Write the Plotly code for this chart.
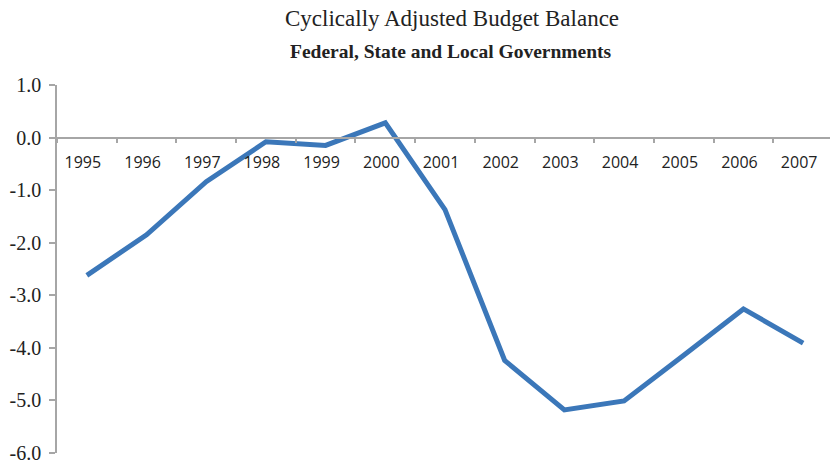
import plotly.graph_objects as go

# Cyclically adjusted budget balance, percent
years = ["1995", "1996", "1997", "1998", "1999", "2000", "2001",
         "2002", "2003", "2004", "2005", "2006", "2007"]
balance = [-2.62, -1.85, -0.84, -0.08, -0.15, 0.28, -1.37,
           -4.24, -5.18, -5.01, -4.14, -3.26, -3.91]

y_ticks = [1, 0, -1, -2, -3, -4, -5, -6]
y_tick_text = ["1.0", "0.0", "-1.0", "-2.0", "-3.0", "-4.0", "-5.0", "-6.0"]

title_text = "Cyclically Adjusted Budget Balance"
subtitle_text = "Federal, State and Local Governments"

W, H = 830, 464
L, R, T, B = 57, 0, 85, 7
plot_w = W - L - R
plot_h = H - T - B

fig = go.Figure()
fig.add_trace(go.Scatter(
    x=years, y=balance, mode="lines",
    line=dict(color="#3B77B9", width=5),
    hoverinfo="x+y",
))

axis_grey = "#A6A6A6"
ymin, ymax = -6, 1

fig.update_layout(
    width=W, height=H,
    margin=dict(l=L, r=R, t=T, b=B),
    plot_bgcolor="white", paper_bgcolor="white",
    showlegend=False,
    xaxis=dict(
        type="category",
        range=[-0.5, 12.45],
        anchor="free",
        position=(0 - ymin) / (ymax - ymin),
        showline=True, linecolor=axis_grey, linewidth=1.5,
        ticks="outside", tickson="boundaries", ticklen=5,
        tickcolor=axis_grey, tickwidth=1.5,
        showgrid=False, zeroline=False,
        tickfont=dict(family="Open Sans", size=16, color="#222222"),
        ticklabelstandoff=10,
        ticklabelshift=-4,
    ),
    yaxis=dict(
        range=[ymin, ymax],
        tickvals=y_ticks, ticktext=y_tick_text,
        showline=True, linecolor=axis_grey, linewidth=1.5,
        ticks="outside", ticklen=6, tickcolor=axis_grey, tickwidth=1.5,
        showgrid=False, zeroline=False,
        tickfont=dict(family="Liberation Serif", size=20, color="#222222"),
        ticklabelstandoff=4,
        ticklabeloverflow="allow",
    ),
    annotations=[
        dict(text=title_text, xref="paper", yref="paper",
             x=(452 - L) / plot_w, y=1 + (T - 18) / plot_h,
             xanchor="center", yanchor="middle", showarrow=False,
             font=dict(family="Liberation Serif", size=23, color="#222222")),
        dict(text="<b>" + subtitle_text + "</b>", xref="paper", yref="paper",
             x=(451 - L) / plot_w, y=1 + (T - 51) / plot_h,
             xanchor="center", yanchor="middle", showarrow=False,
             font=dict(family="Liberation Serif", size=19.5, color="#222222")),
    ],
)

fig.write_html("out.html")
